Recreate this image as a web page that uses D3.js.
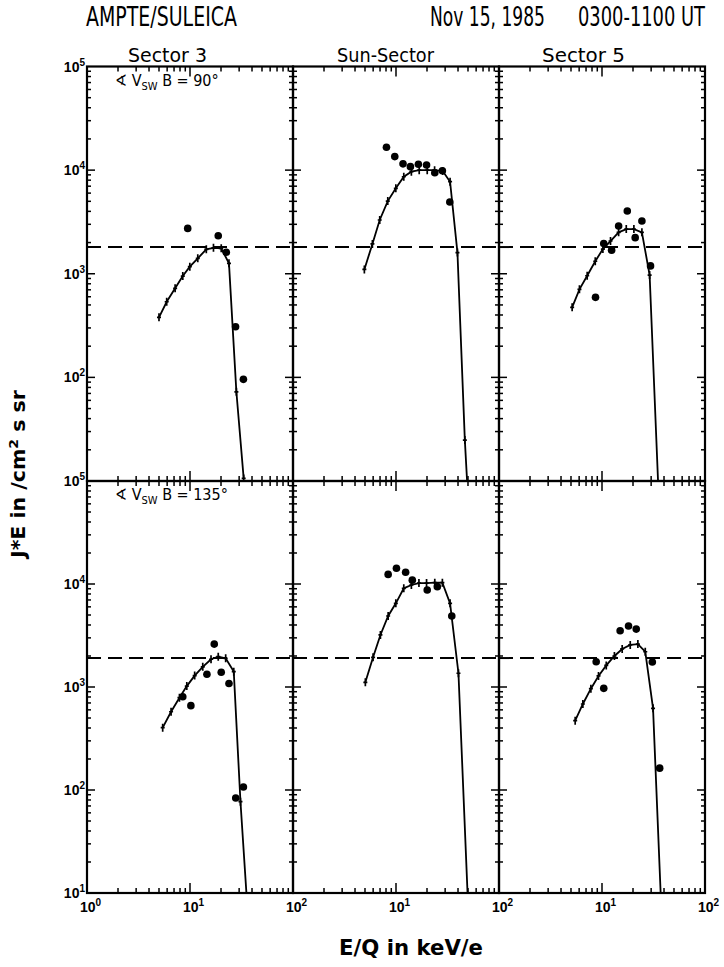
<!DOCTYPE html>
<html>
<head>
<meta charset="utf-8">
<script src="https://cdn.jsdelivr.net/npm/d3@7"></script>
<style>
  body { margin: 0; background: #fff; }
</style>
</head>
<body>
<div id="chart"></div>
<script>
// column titles and row annotations
var sectors = ["Sector 3", "Sun-Sector", "Sector 5"];
var angles = ["90°", "135°"];
var bgLevel = [1810, 1910];   // dashed line, per row

// row 1 (angle 90) : model fit [E, J*E] and measured dots
var fitA3  = [[5.0,380],[5.94,537],[7.17,723],[8.51,950],[9.96,1170],[11.9,1410],[14.4,1720],[16.9,1780],[20.1,1760],[23.9,1260],[28.2,72.6],[33.2,10.6]];
var obsA3  = [[9.5,2740],[18.8,2330],[22.5,1610],[27.7,308],[33,95.7]];
var fitASun = [[4.93,1100],[5.9,1940],[6.95,3300],[8.32,5030],[9.96,6670],[11.9,8630],[14.1,9660],[16.8,10000],[20.1,10000],[23.7,10000],[28.4,9800],[33.5,7730],[39.5,1600],[46.6,24.8],[49,10]];
var obsASun = [[8.08,16600],[9.73,13500],[11.7,11500],[13.8,10800],[16.5,11400],[19.8,11200],[23.8,9440],[28.2,9860],[33.3,4920]];
var fitA5  = [[5.13,474],[6.04,707],[7.18,957],[8.6,1320],[10.2,1730],[12.1,2070],[14.5,2510],[17.2,2700],[20.4,2700],[24.4,2510],[29,971],[35,10]];
var obsA5  = [[8.65,592],[10.4,1960],[12.4,1690],[14.5,2890],[17.6,4030],[21,2230],[24.4,3230],[29.6,1190]];

// row 2 (angle 135)
var fitB3  = [[5.43,403],[6.55,575],[7.9,787],[9.31,1020],[11.1,1290],[13.3,1570],[16,1860],[18.8,1970],[22.2,1900],[26.6,1410],[30.9,77],[35.3,10]];
var obsB3  = [[8.51,805],[10.2,659],[14.6,1330],[17.2,2610],[20.1,1390],[23.9,1080],[27.8,83.6],[33,107]];
var fitBSun = [[5.04,1110],[5.99,1940],[7.06,3200],[8.39,4890],[9.96,6490],[11.9,9080],[14.1,9780],[16.7,10200],[19.8,10200],[23.8,10300],[28.2,10300],[33.5,6490],[40.4,1360],[49.5,10]];
var obsBSun = [[8.39,12400],[10.1,14200],[12.4,13000],[14.4,10900],[20.1,8740],[25.2,9420],[34.8,4890]];
var fitB5  = [[5.49,471],[6.52,684],[7.8,963],[9.25,1280],[11,1620],[13.2,2000],[15.7,2340],[18.8,2560],[22.3,2610],[26.3,2200],[31.3,621],[37.1,10]];
var obsB5  = [[8.78,1760],[10.4,970],[15,3520],[18.1,3910],[21.5,3650],[30.8,1750],[36.3,163]];

var yExps = [1, 2, 3, 4, 5];
var xExps = [0, 1, 2];

var fits = [[fitA3, fitASun, fitA5], [fitB3, fitBSun, fitB5]];
var obs = [[obsA3, obsASun, obsA5], [obsB3, obsBSun, obsB5]];

var W = 724, H = 967;
var left = 87, colW = 206;
var rows = [{top: 66.5, bottom: 481}, {top: 481, bottom: 893}];
var tickFont = "'Liberation Sans', Arial, sans-serif";
var narrow = "'DejaVu Sans Condensed', 'DejaVu Sans', sans-serif";

var svg = d3.select("#chart").append("svg")
    .attr("width", W).attr("height", H)
    .style("background", "#fff");

// squeeze a text horizontally to a given width (old plot used a narrow lettering)
function fitText(sel, x, y, width, rot) {
  var w = sel.node().getComputedTextLength();
  var k = width / w;
  sel.attr("transform", "translate(" + x + "," + y + ")" +
    (rot ? " rotate(" + rot + ")" : "") + " scale(" + k + ",1)");
  return sel;
}

// minor values 2..9 per decade
function minors(lo, hi) {
  var out = [];
  for (var d = lo; d < hi; d *= 10)
    for (var k = 2; k <= 9; k++) out.push(d * k);
  return out;
}

var line = d3.line();

rows.forEach(function(row, r) {
  var y = d3.scaleLog().domain([10, 1e5]).range([row.bottom, row.top]);

  sectors.forEach(function(name, c) {
    var x0 = left + c * colW, x1 = x0 + colW;
    var x = d3.scaleLog().domain([1, 100]).range([x0, x1]);
    var g = svg.append("g");

    var clipId = "clip" + r + c;
    svg.append("clipPath").attr("id", clipId)
      .append("rect").attr("x", x0).attr("y", row.top)
      .attr("width", colW).attr("height", row.bottom - row.top);

    // x ticks, bottom and top, pointing inward
    var xt = minors(1, 100).map(function(v) { return {v: v, len: 5}; });
    xt.push({v: 10, len: 10});
    xt.forEach(function(t) {
      g.append("line").attr("x1", x(t.v)).attr("x2", x(t.v))
        .attr("y1", row.bottom).attr("y2", row.bottom - t.len)
        .attr("stroke", "#000").attr("stroke-width", 1.5);
      g.append("line").attr("x1", x(t.v)).attr("x2", x(t.v))
        .attr("y1", row.top).attr("y2", row.top + t.len)
        .attr("stroke", "#000").attr("stroke-width", 1.5);
    });
    // y ticks, both sides
    var yt = minors(10, 1e5).map(function(v) { return {v: v, len: 4}; });
    [100, 1000, 10000].forEach(function(v) { yt.push({v: v, len: 8}); });
    yt.forEach(function(t) {
      g.append("line").attr("x1", x0).attr("x2", x0 + t.len)
        .attr("y1", y(t.v)).attr("y2", y(t.v))
        .attr("stroke", "#000").attr("stroke-width", 1.5);
      g.append("line").attr("x1", x1).attr("x2", x1 - t.len)
        .attr("y1", y(t.v)).attr("y2", y(t.v))
        .attr("stroke", "#000").attr("stroke-width", 1.5);
    });

    g.append("rect").attr("x", x0).attr("y", row.top)
      .attr("width", colW).attr("height", row.bottom - row.top)
      .attr("fill", "none").attr("stroke", "#000").attr("stroke-width", 2.2);

    // background level (dashed)
    g.append("line").attr("x1", x0).attr("x2", x1)
      .attr("y1", y(bgLevel[r])).attr("y2", y(bgLevel[r]))
      .attr("stroke", "#000").attr("stroke-width", 2)
      .attr("stroke-dasharray", "14,7");

    var fit = fits[r][c];
    var pg = g.append("g").attr("clip-path", "url(#" + clipId + ")");
    pg.append("path")
      .attr("d", line(fit.map(function(d) { return [x(d[0]), y(d[1])]; })))
      .attr("fill", "none").attr("stroke", "#000").attr("stroke-width", 1.8);

    // small error bars on the fit points
    pg.selectAll(".eb").data(fit.filter(function(d) { return d[1] > 10.5; }))
      .enter().append("path").attr("class", "eb")
      .attr("d", function(d) {
        var px = x(d[0]), py = y(d[1]);
        return "M" + px + "," + (py - 4) + "V" + (py + 4) +
               "M" + (px - 2) + "," + py + "H" + (px + 2);
      })
      .attr("stroke", "#000").attr("stroke-width", 1.7);

    pg.selectAll(".dot").data(obs[r][c]).enter().append("circle")
      .attr("cx", function(d) { return x(d[0]); })
      .attr("cy", function(d) { return y(d[1]); })
      .attr("r", 3.8).attr("fill", "#000");

    // column titles
    if (r === 0) {
      var tx = [128, 337, 542][c], tl = [79, 97, 83][c];
      fitText(svg.append("text")
        .style("font-family", narrow).style("font-size", "20px")
        .text(name), tx, 62, tl);
    }

    // x tick labels under bottom row
    if (r === 1) {
      xExps.forEach(function(e) {
        if (c > 0 && e === 0) return;
        var t = svg.append("text").attr("x", x(Math.pow(10, e)) - 7).attr("y", 912)
          .style("font-family", tickFont).style("font-size", "14px")
          .style("font-weight", "bold");
        t.append("tspan").text("10");
        t.append("tspan").attr("dy", -6).style("font-size", "10px").text(e);
      });
    }
  });

  // y tick labels on left
  yExps.forEach(function(e) {
    if (r === 0 && e === 1) return;
    var t = svg.append("text").attr("x", 85).attr("y", y(Math.pow(10, e)) + 5)
      .attr("text-anchor", "end")
      .style("font-family", tickFont).style("font-size", "14px")
      .style("font-weight", "bold");
    t.append("tspan").text("10");
    t.append("tspan").attr("dy", -6).style("font-size", "10px").text(e);
  });

  // angle annotation
  var a = svg.append("text").attr("x", 115).attr("y", row.top + 19)
    .style("font-family", narrow).style("font-size", "16px");
  a.append("tspan").text("∢ V");
  a.append("tspan").attr("dy", 4).style("font-size", "11px").text("SW");
  a.append("tspan").attr("dy", -4).text(" B = " + angles[r]);
});

// header
fitText(svg.append("text")
  .style("font-family", narrow).style("font-size", "26px")
  .text("AMPTE/SULEICA"), 86, 26, 151);
fitText(svg.append("text")
  .style("font-family", narrow).style("font-size", "26px")
  .text("Nov 15, 1985"), 430, 26, 115);
fitText(svg.append("text")
  .style("font-family", narrow).style("font-size", "26px")
  .text("0300-1100 UT"), 578, 26, 127);

// axis titles
var yl = svg.append("text")
  .style("font-family", "'DejaVu Sans', sans-serif").style("font-size", "19px")
  .style("font-weight", "bold");
yl.append("tspan").text("J*E in /cm");
yl.append("tspan").attr("dy", -7).style("font-size", "13px").text("2");
yl.append("tspan").attr("dy", 7).text(" s sr");
fitText(yl, 25, 558, 168, -90);

fitText(svg.append("text")
  .style("font-family", "'DejaVu Sans', sans-serif").style("font-size", "22px")
  .style("font-weight", "bold")
  .text("E/Q in keV/e"), 339, 955, 144);
</script>
</body>
</html>
